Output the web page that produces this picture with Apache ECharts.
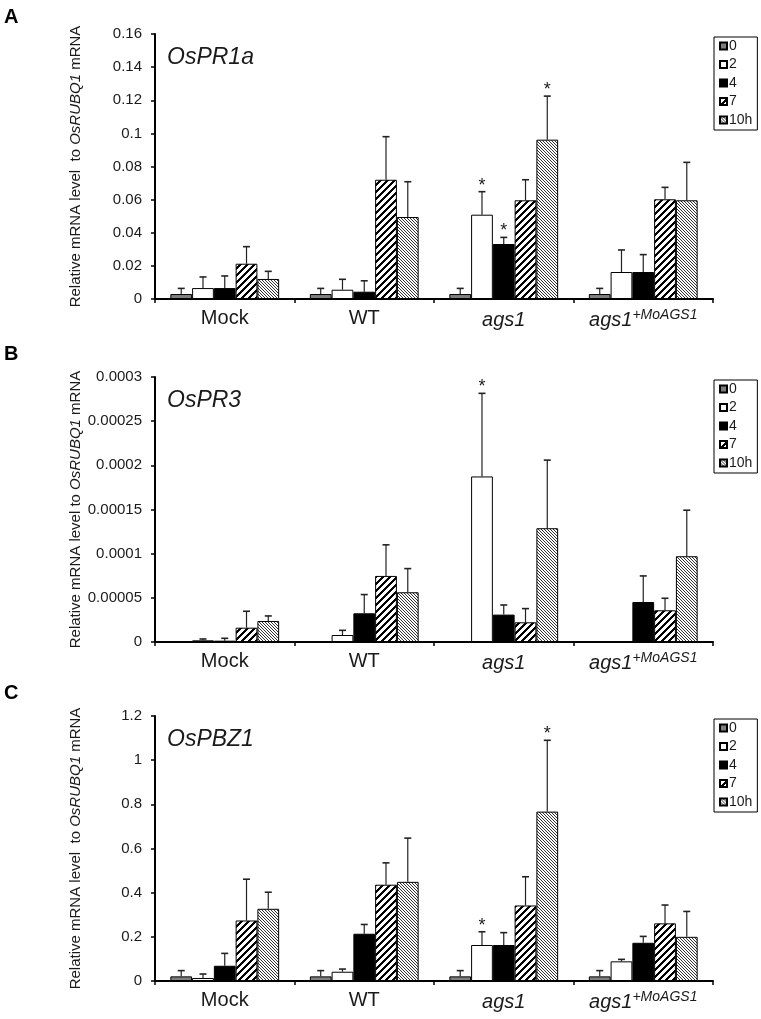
<!DOCTYPE html>
<html>
<head>
<meta charset="utf-8">
<script src="https://cdn.jsdelivr.net/npm/echarts@6/dist/echarts.min.js"></script>
<style>
html,body{margin:0;padding:0;background:#fff;}
#chart{width:761px;height:1019px;}
</style>
</head>
<body>
<div id="chart"></div>
<script>
// ---------- data ----------
var categories = ['Mock', 'WT', 'ags1', 'ags1+MoAGS1'];
var timePoints = ['0', '2', '4', '7', '10h'];

// rows = time points (0,2,4,7,10h), cols = categories
var pr1aMean = [
  [0.003, 0.003, 0.003, 0.003],
  [0.0066, 0.0056, 0.0509, 0.0163],
  [0.0066, 0.0044, 0.0332, 0.0163],
  [0.0213, 0.072, 0.0596, 0.0602],
  [0.0121, 0.0495, 0.0962, 0.0596]
];
var pr1aSd = [
  [0.0034, 0.0034, 0.0034, 0.0034],
  [0.0067, 0.0063, 0.0139, 0.0133],
  [0.0073, 0.0066, 0.004, 0.0105],
  [0.0103, 0.026, 0.0124, 0.0072],
  [0.0046, 0.0213, 0.0263, 0.0229]
];
var pr1aStars = [[2, 1], [2, 2], [2, 4]];

var pr3Mean = [
  [5e-7, 5e-7, 5e-7, 5e-7],
  [1.9e-6, 7.9e-6, 1.874e-4, 0],
  [1.5e-6, 3.25e-5, 3.1e-5, 4.53e-5],
  [1.62e-5, 7.48e-5, 2.23e-5, 3.59e-5],
  [2.38e-5, 5.63e-5, 1.288e-4, 9.71e-5]
];
var pr3Sd = [
  [0, 0, 0, 0],
  [1.5e-6, 5.3e-6, 9.41e-5, 0],
  [2.7e-6, 2.12e-5, 1.09e-5, 2.95e-5],
  [1.86e-5, 3.52e-5, 1.55e-5, 1.36e-5],
  [5.7e-6, 2.68e-5, 7.71e-5, 5.21e-5]
];
var pr3Stars = [[2, 1]];

var pbz1Mean = [
  [0.021, 0.021, 0.021, 0.021],
  [0.0136, 0.042, 0.163, 0.089],
  [0.069, 0.214, 0.163, 0.173],
  [0.274, 0.436, 0.342, 0.261],
  [0.327, 0.449, 0.767, 0.2]
];
var pbz1Sd = [
  [0.026, 0.026, 0.026, 0.026],
  [0.018, 0.012, 0.06, 0.009],
  [0.056, 0.042, 0.056, 0.029],
  [0.187, 0.099, 0.13, 0.083],
  [0.075, 0.198, 0.323, 0.115]
];
var pbz1Stars = [[2, 1], [2, 4]];

var geneNames = ['OsPR1a', 'OsPR3', 'OsPBZ1'];
var panelLetters = ['A', 'B', 'C'];
var yMax = [0.16, 0.0003, 1.2];
var yInterval = [0.02, 0.00005, 0.2];
var yNames = [
  'Relative mRNA level  to {it|OsRUBQ1} mRNA',
  'Relative mRNA level to {it|OsRUBQ1} mRNA',
  'Relative mRNA level  to {it|OsRUBQ1} mRNA'
];

// ---------- patterns ----------
function patternCanvas(kind) {
  var c = document.createElement('canvas');
  var ctx;
  if (kind === 'wide') {
    var n = 7;
    c.width = n; c.height = n;
    ctx = c.getContext('2d');
    ctx.fillStyle = '#fff'; ctx.fillRect(0, 0, n, n);
    ctx.fillStyle = '#000';
    for (var y = 0; y < n; y++) {
      for (var k = 0; k < 3; k++) {
        var x = ((n - 1 - y + k) % n + n) % n;
        ctx.fillRect(x, y, 1, 1);
      }
    }
  } else {
    var m = 3;
    c.width = m; c.height = m;
    ctx = c.getContext('2d');
    ctx.fillStyle = '#fff'; ctx.fillRect(0, 0, m, m);
    ctx.fillStyle = '#333';
    for (var i = 0; i < m; i++) ctx.fillRect(i, i, 1, 1);
  }
  return c;
}
var fills = [
  '#7f7f7f',
  '#ffffff',
  '#000000',
  { image: patternCanvas('wide'), repeat: 'repeat' },
  { image: patternCanvas('fine'), repeat: 'repeat' }
];

// ---------- layout ----------
var gridTops = [34, 377, 716];
var letterTops = [7, 344, 683];
var gridH = 265;
var gridLeft = 155;
var gridWidth = 558;
var catGap = 0.22;

var means = [pr1aMean, pr3Mean, pbz1Mean];
var sds = [pr1aSd, pr3Sd, pbz1Sd];
var stars = [pr1aStars, pr3Stars, pbz1Stars];
var fontFam = '"Liberation Sans", Arial, sans-serif';

var grids = [], xAxes = [], yAxes = [], series = [], titles = [], legends = [];

function catFormatter(v) {
  if (v === 'ags1') return '{i|ags1}';
  if (v === 'ags1+MoAGS1') return '{i|ags1}{s|+MoAGS1}';
  return v;
}

for (var p = 0; p < 3; p++) {
  grids.push({ left: gridLeft, top: gridTops[p], width: gridWidth, height: gridH });
  xAxes.push({
    type: 'category', gridIndex: p, data: categories,
    axisLine: { lineStyle: { color: '#000', width: 2 } },
    axisTick: { show: true, length: 4, interval: 0, lineStyle: { color: '#000', width: 1.5 } },
    axisLabel: {
      margin: 9, fontSize: 20, color: '#1a1a1a', fontFamily: fontFam, interval: 0,
      formatter: catFormatter,
      rich: {
        i: { fontStyle: 'italic', fontSize: 20, lineHeight: 24, color: '#1a1a1a', fontFamily: fontFam },
        s: { fontStyle: 'italic', fontSize: 14, lineHeight: 15, verticalAlign: 'top', color: '#1a1a1a', fontFamily: fontFam }
      }
    }
  });
  yAxes.push({
    type: 'value', gridIndex: p, min: 0, max: yMax[p], interval: yInterval[p],
    name: yNames[p], nameLocation: 'middle', nameGap: 72, nameMoveOverlap: false,
    nameTextStyle: {
      fontSize: 15, color: '#1a1a1a', fontFamily: fontFam,
      rich: { it: { fontStyle: 'italic', fontSize: 15, color: '#1a1a1a', fontFamily: fontFam } }
    },
    axisLine: { show: true, lineStyle: { color: '#000', width: 2 } },
    axisTick: { show: true, length: 4, lineStyle: { color: '#000', width: 1.5 } },
    splitLine: { show: false },
    axisLabel: {
      fontSize: 15, color: '#1a1a1a', fontFamily: fontFam, margin: 13,
      formatter: function (v) { return String(+v.toFixed(6)); }
    }
  });
  titles.push({
    text: panelLetters[p], left: 4, top: letterTops[p], padding: 0,
    textStyle: { fontSize: 20, fontWeight: 'bold', color: '#000', fontFamily: fontFam }
  });
  titles.push({
    text: geneNames[p], left: 167, top: gridTops[p] + 12, padding: 0,
    textStyle: { fontSize: 23, fontStyle: 'italic', fontWeight: 'normal', color: '#1a1a1a', fontFamily: fontFam }
  });
  legends.push({
    data: timePoints, orient: 'vertical', left: 714, top: gridTops[p] + 3,
    icon: 'rect', itemWidth: 7, itemHeight: 7, itemGap: 4.5,
    padding: [2, 5, 3, 5], borderColor: '#000', borderWidth: 1,
    textStyle: { fontSize: 14, lineHeight: 14, color: '#1a1a1a', fontFamily: fontFam, padding: [0, 0, 0, -3] },
    selectedMode: false
  });

  for (var t = 0; t < 5; t++) {
    series.push({
      name: timePoints[t], type: 'bar', xAxisIndex: p, yAxisIndex: p,
      data: means[p][t],
      barGap: '0%', barCategoryGap: (catGap * 100) + '%',
      itemStyle: { color: fills[t], borderColor: '#000', borderWidth: 1 },
      emphasis: { disabled: true },
      silent: true
    });
  }

  // error bars + significance stars
  var errData = [];
  for (var t2 = 0; t2 < 5; t2++) {
    for (var c = 0; c < 4; c++) {
      var isStar = stars[p].some(function (s) { return s[0] === c && s[1] === t2; }) ? 1 : 0;
      errData.push([c, means[p][t2][c], t2, means[p][t2][c] + sds[p][t2][c], isStar]);
    }
  }
  series.push({
    name: 'err' + p, type: 'custom', xAxisIndex: p, yAxisIndex: p, z: 5, silent: true,
    data: errData,
    renderItem: function (params, api) {
      var cat = api.value(0), m = api.value(1), ti = api.value(2), up = api.value(3), st = api.value(4);
      var band = api.size([1, 0])[0];
      var total = band * (1 - catGap);
      var bw = total / 5;
      var base = api.coord([cat, m]);
      var top = api.coord([cat, up]);
      var x = base[0] - total / 2 + bw * (ti + 0.5);
      var children = [];
      if (up > m) {
        children.push({ type: 'line', shape: { x1: x, y1: base[1], x2: x, y2: top[1] }, style: { stroke: '#222', lineWidth: 1.2 } });
        children.push({ type: 'line', shape: { x1: x - 3.5, y1: top[1], x2: x + 3.5, y2: top[1] }, style: { stroke: '#222', lineWidth: 1.6 } });
      }
      if (st) {
        children.push({ type: 'text', style: { x: x, y: top[1] - 6, text: '*', fontSize: 18, fontFamily: fontFam, fill: '#1a1a1a', align: 'center', verticalAlign: 'middle' } });
      }
      return { type: 'group', children: children };
    }
  });
}

var chart = echarts.init(document.getElementById('chart'), null, { renderer: 'canvas' });
chart.setOption({
  animation: false,
  backgroundColor: '#fff',
  title: titles,
  legend: legends,
  grid: grids,
  xAxis: xAxes,
  yAxis: yAxes,
  series: series
});
</script>
</body>
</html>
